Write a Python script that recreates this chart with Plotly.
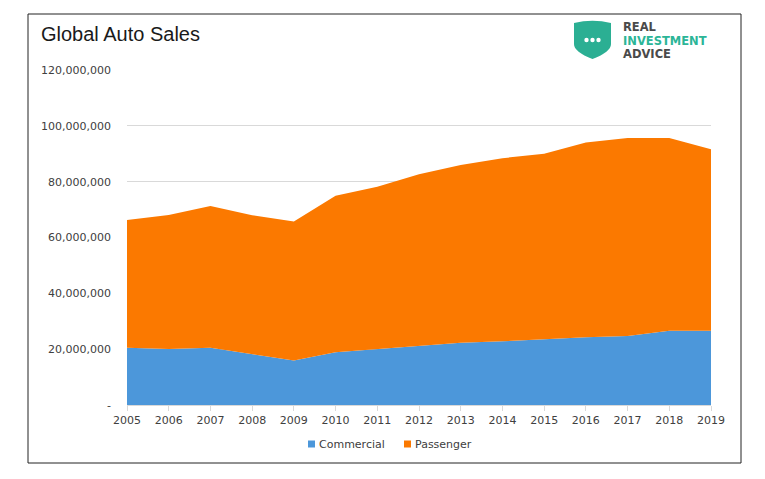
import plotly.graph_objects as go

years = list(range(2005, 2020))
commercial = [20.5e6, 20.1e6, 20.5e6, 18.2e6, 15.9e6, 18.9e6, 20.1e6, 21.1e6,
              22.3e6, 22.8e6, 23.5e6, 24.3e6, 24.7e6, 26.6e6, 26.6e6]
passenger = [45.8e6, 48.0e6, 50.8e6, 49.8e6, 49.8e6, 56.1e6, 58.1e6, 61.6e6,
             63.7e6, 65.6e6, 66.5e6, 69.7e6, 70.9e6, 69.0e6, 65.0e6]
y_tickvals = [0, 20e6, 40e6, 60e6, 80e6, 100e6, 120e6]
y_ticktext = ["-", "20,000,000", "40,000,000", "60,000,000", "80,000,000",
              "100,000,000", "120,000,000"]
series_names = ["Commercial", "Passenger"]
colors = ["#4C97DA", "#FB7900"]

# page body has an 8px margin: shift everything up/left by it
OFF = 8
W, H = 765 - OFF, 479 - OFF
L, R, T, B = 127 - OFF, 711 - OFF, 70 - OFF, 405 - OFF


def px(x):
    return (x - OFF - L) / (R - L)


def py(y):
    return (B - (y - OFF)) / (B - T)


fig = go.Figure()
for name, vals, col in zip(series_names, [commercial, passenger], colors):
    fig.add_trace(go.Scatter(
        x=years, y=vals, name=name, mode="lines", stackgroup="one",
        line=dict(width=0, color=col), fillcolor=col, showlegend=False,
        hoverinfo="x+y+name"))

font_ax = dict(family="DejaVu Sans", size=11, color="#404040")

shapes = []
annotations = []

# outer border
shapes.append(dict(type="rect", xref="paper", yref="paper",
                   x0=px(28), x1=px(741), y0=py(463), y1=py(14),
                   line=dict(color="#222222", width=1), fillcolor="rgba(0,0,0,0)",
                   layer="below"))

# title
annotations.append(dict(text="Global Auto Sales", xref="paper", yref="paper",
                        x=px(39), y=py(34), xanchor="left", yanchor="middle",
                        showarrow=False,
                        font=dict(family="Liberation Sans", size=20, color="#1a1a1a")))

# manual legend
leg_items = [(308, 317, series_names[0], colors[0]), (404, 413, series_names[1], colors[1])]
for sx, tx, name, col in leg_items:
    shapes.append(dict(type="rect", xref="paper", yref="paper",
                       x0=px(sx), x1=px(sx + 7), y0=py(447.5), y1=py(440.5),
                       line=dict(width=0), fillcolor=col))
    annotations.append(dict(text=name, xref="paper", yref="paper",
                            x=px(tx), y=py(444), xanchor="left", yanchor="middle",
                            showarrow=False, font=font_ax))

# logo shield
def P(x, y):
    return f"{px(x):.5f},{py(y):.5f}"

shield = (f"M {P(574,23)} Q {P(592.5,18.5)} {P(611,23)} L {P(611,44)} "
          f"Q {P(611,52)} {P(592.5,59)} Q {P(574,52)} {P(574,44)} Z")
shapes.append(dict(type="path", xref="paper", yref="paper", path=shield,
                   fillcolor="#2BAF93", line=dict(width=0)))
for dx in [586.5, 592.5, 598.5]:
    shapes.append(dict(type="circle", xref="paper", yref="paper",
                       x0=px(dx - 2.2), x1=px(dx + 2.2), y0=py(40 + 2.2), y1=py(40 - 2.2),
                       fillcolor="white", line=dict(width=0)))
for txt, yy, col in [("REAL", 27.5, "#4A4A4A"), ("INVESTMENT", 40.5, "#2BB597"),
                     ("ADVICE", 53.5, "#4A4A4A")]:
    annotations.append(dict(text=f"<b>{txt}</b>", xref="paper", yref="paper",
                            x=px(621), y=py(yy), xanchor="left", yanchor="middle",
                            showarrow=False,
                            font=dict(family="DejaVu Sans", size=11.5, color=col)))

fig.update_layout(
    width=W, height=H,
    margin=dict(l=L, r=W - R, t=T, b=H - B, pad=0),
    paper_bgcolor="white", plot_bgcolor="white",
    showlegend=False,
    shapes=shapes, annotations=annotations,
    xaxis=dict(range=[2005, 2019], tickvals=years, ticktext=[str(y) for y in years],
               showgrid=False, zeroline=False, showline=True, linecolor="#D9D9D9",
               linewidth=1, ticks="outside", ticklen=5, tickcolor="#D9D9D9",
               tickfont=font_ax, fixedrange=True),
    yaxis=dict(range=[0, 120e6], tickvals=y_tickvals, ticktext=y_ticktext,
               showgrid=True, gridcolor="#D9D9D9", gridwidth=1, zeroline=False,
               showline=False, ticks="", tickfont=font_ax, ticklabelstandoff=15,
               fixedrange=True),
)

fig.write_html("out.html")
